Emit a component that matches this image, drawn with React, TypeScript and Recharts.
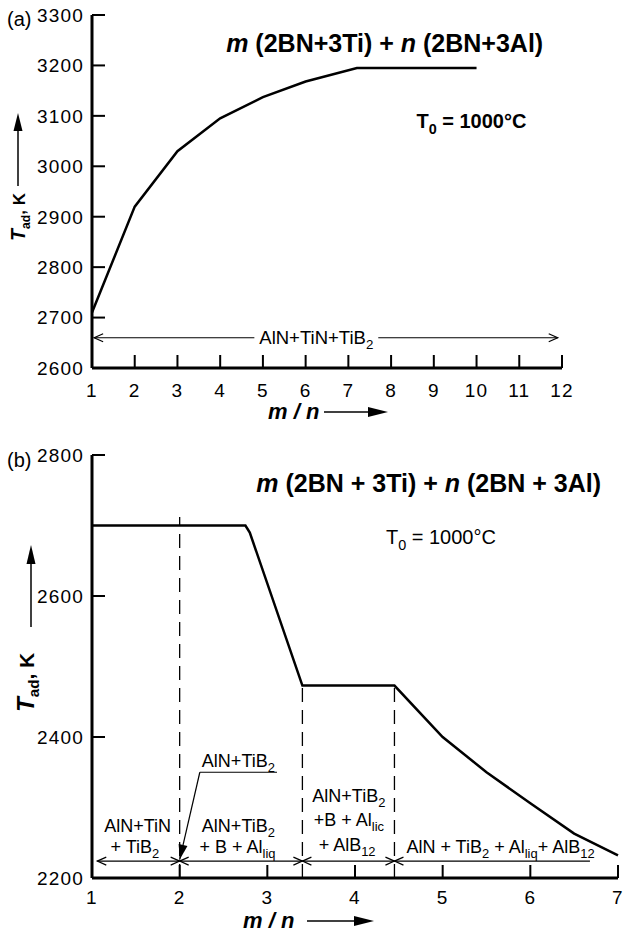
import { LineChart, Line, XAxis, YAxis, ReferenceLine, ReferenceDot } from 'recharts'

const FONT = '"Liberation Sans", Arial, Helvetica, sans-serif'

// (a) m(2BN+3Ti) + n(2BN+3Al), T0 = 1000°C
const ratioA = [1, 2, 3, 4, 5, 6, 7.2, 10]
const tadA = [2710, 2920, 3030, 3095, 3137, 3168, 3195, 3195]
const ticksAX = [1, 2, 3, 4, 5, 6, 7, 8, 9, 10, 11, 12]
const ticksAY = [2600, 2700, 2800, 2900, 3000, 3100, 3200, 3300]

// (b) same system, phase regions
const ratioB = [1, 2.75, 2.8, 3.4, 4.45, 5, 5.5, 6, 6.5, 7]
const tadB = [2700, 2700, 2690, 2473, 2473, 2400, 2350, 2306, 2263, 2232]
const ticksBX = [1, 2, 3, 4, 5, 6, 7]
const ticksBY = [2200, 2400, 2600, 2800]
const phaseBounds = [2, 3.4, 4.45]
const phaseTops = [2712, 2472, 2472]

const dataA = ratioA.map((r, i) => ({ r, t: tadA[i] }))
const dataB = ratioB.map((r, i) => ({ r, t: tadB[i] }))

const axisLine = { stroke: '#000', strokeWidth: 3 }
const hiddenTickLine = { stroke: 'none' }
// recharts puts the label at axis + tickSize + tickMargin
const TICK_OFFSET = 2

type Part = string | { sub: string }

// text with subscripts, baseline restored after each subscript
function rich(parts: Part[], shift = 5) {
  let lowered = false
  return parts.map((p, i) => {
    if (typeof p === 'string') {
      const dy = lowered ? -shift : undefined
      lowered = false
      return <tspan key={i} dy={dy}>{p}</tspan>
    }
    const dy = lowered ? undefined : shift
    lowered = true
    return <tspan key={i} dy={dy} fontSize="0.72em">{p.sub}</tspan>
  })
}

const tickText = { fontFamily: FONT, fontSize: 19, letterSpacing: 1.2, fill: '#000' }

// label plus an inward tick mark
const xTick = (gap: number) => (p: any) => {
  const ay = p.y - TICK_OFFSET
  return (
    <g>
      <rect x={p.x - 1} y={ay - 13} width={2} height={13} fill="#000" />
      <text x={p.x} y={ay + gap} textAnchor="middle" {...tickText}>{p.payload.value}</text>
    </g>
  )
}

const yTick = (p: any) => {
  const ax = p.x + TICK_OFFSET
  return (
    <g>
      <rect x={ax} y={p.y - 1} width={13} height={2} fill="#000" />
      <text x={ax - 8} y={p.y} dy="0.36em" textAnchor="end" {...tickText}>{p.payload.value}</text>
    </g>
  )
}

function arrowShape(heads: 'start' | 'end' | 'both', filled = false) {
  return (p: any) => {
    const { x1, y1, x2, y2 } = p
    const ang = Math.atan2(y2 - y1, x2 - x1)
    const head = (x: number, y: number, a: number) => {
      const L = filled ? 15 : 9
      const W = filled ? 4.5 : 4
      const bx = x - L * Math.cos(a)
      const by = y - L * Math.sin(a)
      const px = -Math.sin(a) * W
      const py = Math.cos(a) * W
      return filled ? (
        <path d={`M${x},${y}L${bx + px},${by + py}L${bx - px},${by - py}Z`} fill="#000" />
      ) : (
        <path d={`M${bx + px},${by + py}L${x},${y}L${bx - px},${by - py}`} fill="none" stroke="#000" strokeWidth={1.2} />
      )
    }
    return (
      <g>
        <line x1={x1} y1={y1} x2={x2} y2={y2} stroke="#000" strokeWidth={1.2} />
        {heads !== 'end' && head(x1, y1, ang + Math.PI)}
        {heads !== 'start' && head(x2, y2, ang)}
      </g>
    )
  }
}

function plainLine(p: any) {
  return <line x1={p.x1} y1={p.y1} x2={p.x2} y2={p.y2} stroke="#000" strokeWidth={1.2} />
}

function textShape(content: React.ReactNode, size = 18, weight: any = 'normal') {
  return (p: any) => (
    <text x={p.cx} y={p.cy} textAnchor="middle" fontFamily={FONT} fontSize={size} fontWeight={weight} fill="#000">
      {content}
    </text>
  )
}

const titleText = (spaced: boolean) => [
  <tspan key="m" fontStyle="italic">m</tspan>,
  <tspan key="a">{spaced ? ' (2BN + 3Ti) + ' : ' (2BN+3Ti) + '}</tspan>,
  <tspan key="n" fontStyle="italic">n</tspan>,
  <tspan key="b">{spaced ? ' (2BN + 3Al)' : ' (2BN+3Al)'}</tspan>,
]

function ChartA() {
  return (
    <LineChart width={624} height={420} data={dataA} margin={{ top: 15, right: 62, bottom: 22, left: 22 }}>
      <XAxis
        dataKey="r"
        type="number"
        domain={[1, 12]}
        ticks={ticksAX}
        interval={0}
        axisLine={axisLine}
        tickLine={hiddenTickLine}
        tickSize={1}
        tickMargin={1}
        tick={xTick(29)}
        height={30}
      />
      <YAxis
        type="number"
        domain={[2600, 3300]}
        ticks={ticksAY}
        interval={0}
        axisLine={axisLine}
        tickLine={hiddenTickLine}
        tickSize={1}
        tickMargin={1}
        tick={yTick}
        width={70}
      />
      <Line dataKey="t" stroke="#000" strokeWidth={2.5} dot={false} isAnimationActive={false} type="linear" />
      <ReferenceLine segment={[{ x: 1.05, y: 2660 }, { x: 4.8, y: 2660 }]} shape={arrowShape('start')} />
      <ReferenceLine segment={[{ x: 7.7, y: 2660 }, { x: 11.9, y: 2660 }]} shape={arrowShape('end')} />
      <ReferenceDot x={6.25} y={2647} r={0} shape={textShape(rich(['AlN+TiN+TiB', { sub: '2' }]), 18.5)} />
      <ReferenceDot x={7.85} y={3227} r={0} shape={textShape(titleText(false), 25, 'bold')} />
      <ReferenceDot x={9.88} y={3076} r={0} shape={textShape(rich(['T', { sub: '0' }, ' = 1000°C'], 6), 20, 'bold')} />
    </LineChart>
  )
}

function ChartB() {
  return (
    <LineChart width={624} height={492} data={dataB} margin={{ top: 15, right: 6, bottom: 24, left: 22 }}>
      <XAxis
        dataKey="r"
        type="number"
        domain={[1, 7]}
        ticks={ticksBX}
        interval={0}
        axisLine={axisLine}
        tickLine={hiddenTickLine}
        tickSize={1}
        tickMargin={1}
        tick={xTick(26)}
        height={30}
      />
      <YAxis
        type="number"
        domain={[2200, 2800]}
        ticks={ticksBY}
        interval={0}
        axisLine={axisLine}
        tickLine={hiddenTickLine}
        tickSize={1}
        tickMargin={1}
        tick={yTick}
        width={70}
      />
      {phaseBounds.map((b, i) => (
        <ReferenceLine
          key={b}
          segment={[{ x: b, y: 2200 }, { x: b, y: phaseTops[i] }]}
          stroke="#000"
          strokeWidth={1.3}
          strokeDasharray="14 8"
        />
      ))}
      <Line dataKey="t" stroke="#000" strokeWidth={2.5} dot={false} isAnimationActive={false} type="linear" />
      <ReferenceLine segment={[{ x: 1.06, y: 2224 }, { x: 2, y: 2224 }]} shape={arrowShape('both')} />
      <ReferenceLine segment={[{ x: 2, y: 2224 }, { x: 3.4, y: 2224 }]} shape={arrowShape('both')} />
      <ReferenceLine segment={[{ x: 3.4, y: 2224 }, { x: 4.45, y: 2224 }]} shape={arrowShape('both')} />
      <ReferenceLine segment={[{ x: 4.45, y: 2224 }, { x: 6.68, y: 2224 }]} shape={arrowShape('start')} />
      <ReferenceLine segment={[{ x: 3.11, y: 2350 }, { x: 2.23, y: 2350 }]} shape={plainLine} />
      <ReferenceLine segment={[{ x: 2.23, y: 2350 }, { x: 2.0, y: 2226 }]} shape={arrowShape('end', true)} />
      <ReferenceDot x={2.67} y={2357} r={0} shape={textShape(rich(['AlN+TiB', { sub: '2' }]))} />
      <ReferenceDot x={1.52} y={2265} r={0} shape={textShape('AlN+TiN')} />
      <ReferenceDot x={1.49} y={2235} r={0} shape={textShape(rich(['+ TiB', { sub: '2' }]))} />
      <ReferenceDot x={2.67} y={2265} r={0} shape={textShape(rich(['AlN+TiB', { sub: '2' }]))} />
      <ReferenceDot x={2.66} y={2235} r={0} shape={textShape(rich(['+ B + Al', { sub: 'liq' }]))} />
      <ReferenceDot x={3.93} y={2308} r={0} shape={textShape(rich(['AlN+TiB', { sub: '2' }]))} />
      <ReferenceDot x={3.93} y={2274} r={0} shape={textShape(rich(['+B + Al', { sub: 'lic' }]))} />
      <ReferenceDot x={3.91} y={2238} r={0} shape={textShape(rich(['+ AlB', { sub: '12' }]))} />
      <ReferenceDot
        x={5.66}
        y={2235}
        r={0}
        shape={textShape(rich(['AlN + TiB', { sub: '2' }, ' + Al', { sub: 'liq' }, '+ AlB', { sub: '12' }]))}
      />
      <ReferenceDot x={4.84} y={2748} r={0} shape={textShape(titleText(true), 25, 'bold')} />
      <ReferenceDot x={4.98} y={2674} r={0} shape={textShape(rich(['T', { sub: '0' }, ' = 1000°C'], 6), 20)} />
    </LineChart>
  )
}

function AxisTitles() {
  const yLabel = (x: number, y: number, size: number) => (
    <text transform={`translate(${x},${y}) rotate(-90)`} fontFamily={FONT} fontSize={size} fontWeight="bold" fill="#000">
      <tspan fontStyle="italic" fontSize={size * 1.15}>T</tspan>
      <tspan dy={5} fontSize={size * 0.72}>ad</tspan>
      <tspan dy={-5}>, K</tspan>
    </text>
  )
  const mn = (x: number, y: number) => (
    <text x={x} y={y} fontFamily={FONT} fontSize={22} fontWeight="bold" fontStyle="italic" fill="#000">
      m / n
    </text>
  )
  return (
    <svg width={624} height={932} style={{ position: 'absolute', left: 0, top: 0, pointerEvents: 'none' }}>
      <text x={7} y={26} fontFamily={FONT} fontSize={20} fill="#000">(a)</text>
      <text x={7} y={467} fontFamily={FONT} fontSize={20} fill="#000">(b)</text>
      {yLabel(25, 241, 17)}
      <line x1={18} y1={186} x2={18} y2={128} stroke="#000" strokeWidth={1.5} />
      <path d="M18,113 L13.5,131 L22.5,131 Z" fill="#000" />
      {yLabel(34, 712, 21)}
      <line x1={31} y1={627} x2={31} y2={560} stroke="#000" strokeWidth={1.5} />
      <path d="M31,545 L26.5,564 L35.5,564 Z" fill="#000" />
      {mn(268, 419)}
      <line x1={324} y1={412} x2={372} y2={412} stroke="#000" strokeWidth={1.5} />
      <path d="M388,412 L368,407 L368,417 Z" fill="#000" />
      {mn(243, 928)}
      <line x1={307} y1={921} x2={356} y2={921} stroke="#000" strokeWidth={1.5} />
      <path d="M374,921 L354,916 L354,926 Z" fill="#000" />
    </svg>
  )
}

export default function App() {
  return (
    <div style={{ position: 'absolute', left: 0, top: 0, width: 624, height: 932, background: '#fff' }}>
      <div style={{ position: 'absolute', left: 0, top: 0 }}>
        <ChartA />
      </div>
      <div style={{ position: 'absolute', left: 0, top: 440 }}>
        <ChartB />
      </div>
      <AxisTitles />
    </div>
  )
}
